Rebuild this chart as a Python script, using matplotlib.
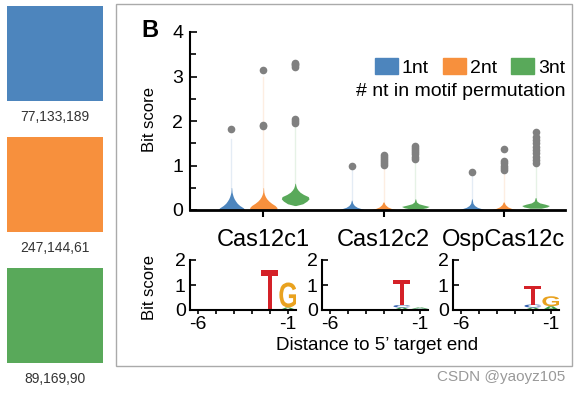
import matplotlib
matplotlib.use('Agg')
import matplotlib.pyplot as plt
import numpy as np
from matplotlib.patches import Rectangle, PathPatch, Patch
from matplotlib.textpath import TextPath
from matplotlib.font_manager import FontProperties
from matplotlib.transforms import Affine2D

plt.rcParams['font.family'] = ['Liberation Sans', 'DejaVu Sans']

# colour swatches on the left (RGB values written under them)
swatch_rgb = [(77, 133, 189), (247, 144, 61), (89, 169, 90)]
series = ['1nt', '2nt', '3nt']
proteins = ['Cas12c1', 'Cas12c2', 'OspCas12c']

# violin outlines: (bit score levels, relative half width), one per series
c1_violins = [
    ([0, .05, .1, .15, .2, .25, .3, .35, .4, .5], [1, .85, .6, .42, .3, .2, .13, .08, .04, .015]),
    ([0, .05, .1, .15, .2, .25, .3, .35, .4, .5], [.9, 1, .85, .6, .4, .25, .15, .08, .04, .015]),
    ([.1, .14, .2, .25, .3, .35, .4, .45, .5, .55, .6], [.05, .55, .85, 1, .95, .6, .35, .2, .1, .05, .02]),
]
c2_violins = [
    ([0, .03, .06, .1, .15, .22], [1, .7, .4, .2, .08, .02]),
    ([0, .03, .07, .12, .18], [1.1, .6, .3, .12, .03]),
    ([.02, .05, .08, .11, .14, .18, .25], [.3, .8, 1, .6, .25, .08, .02]),
]
osp_violins = [
    ([0, .03, .06, .1, .15, .25], [1, .7, .4, .2, .08, .02]),
    ([0, .03, .07, .12, .18], [1.05, .6, .3, .12, .03]),
    ([.04, .07, .1, .13, .16, .2, .28], [.4, .85, 1, .7, .3, .1, .02]),
]

# faint whiskers above each violin
c1_tails = [1.6, 3.0, 1.95]
c2_tails = [0.9, 1.0, 1.1]
osp_tails = [0.8, 0.9, 1.1]

# outlier dots
c1_outliers = [[1.83], [3.15, 1.92, 1.88], [3.22, 3.25, 3.28, 3.3, 1.96, 2.0, 2.04]]
c2_outliers = [[1.0], [1.02, 1.06, 1.1, 1.15, 1.2, 1.24], [1.14, 1.2, 1.25, 1.3, 1.35, 1.4, 1.44]]
osp_outliers = [[0.85], [0.9, 0.95, 1.0, 1.05, 1.1, 1.37],
                [1.05, 1.12, 1.2, 1.28, 1.35, 1.42, 1.5, 1.58, 1.64, 1.75]]

# sequence logos: position -> letters stacked from the bottom (letter, bits)
logo_positions = [-6, -5, -4, -3, -2, -1]
logo_c1 = {-2: [('T', 1.62)], -1: [('A', 0.1), ('G', 1.0)]}
logo_c2 = {-2: [('A', 0.1), ('C', 0.1), ('T', 1.0)], -1: [('C', 0.05), ('A', 0.05)]}
logo_osp = {-2: [('A', 0.1), ('C', 0.12), ('T', 0.74)], -1: [('A', 0.15), ('G', 0.4)]}
letter_colors = {'T': '#D42128', 'G': '#E9A21F', 'A': '#3A9A45', 'C': '#3563B0'}

W, H = 579, 393
colors = [tuple(v / 255 for v in c) for c in swatch_rgb]

fig = plt.figure(figsize=(W / 100, H / 100), dpi=100)

# swatches
for i, c in enumerate(swatch_rgb):
    top = 6 + i * 131
    fig.add_artist(Rectangle((7 / W, 1 - (top + 95) / H), 96 / W, 95 / H,
                             transform=fig.transFigure, color=colors[i], lw=0))
    fig.text(55 / W, 1 - (top + 111) / H, ','.join(str(v) for v in c),
             ha='center', va='center', fontsize=10, color='#333333')

# panel frame
fig.add_artist(Rectangle((116 / W, 1 - 366 / H), 456 / W, 362 / H, fill=False,
                         ec='#aaaaaa', lw=1, transform=fig.transFigure))
fig.text(141 / W, 1 - 37 / H, 'B', fontsize=17, fontweight='bold', ha='left', va='baseline')

# violin panel
ax = fig.add_axes([190 / W, 1 - 210 / H, 375 / W, 178 / H])
offsets = [-0.265, 0, 0.265]
half = 0.115
groups = [(c1_violins, c1_tails, c1_outliers),
          (c2_violins, c2_tails, c2_outliers),
          (osp_violins, osp_tails, osp_outliers)]
for g, (violins, tails, outliers) in enumerate(groups):
    for k in range(3):
        x = g + 1 + offsets[k]
        ys, ws = violins[k]
        hw = np.array(ws) * half
        ax.plot([x, x], [ys[-1], tails[k]], color=colors[k], lw=1, alpha=0.15, zorder=1)
        ax.fill_betweenx(ys, x - hw, x + hw, color=colors[k], lw=0, zorder=2)
        ax.plot([x] * len(outliers[k]), outliers[k], 'o', color='#808080', ms=5.5,
                mec='none', zorder=3)

ax.set_xlim(0.39, 3.51)
ax.set_ylim(0, 4)
ax.set_xticks([1, 2, 3])
ax.set_xticklabels(proteins, fontsize=17)
ax.set_yticks([0, 1, 2, 3, 4])
ax.set_yticks(np.arange(0.5, 4, 1), minor=True)
ax.tick_params(axis='y', direction='in', length=5, width=1.2, labelsize=14, pad=5)
ax.tick_params(axis='y', which='minor', direction='in', length=4, width=1.2)
ax.tick_params(axis='x', direction='out', length=5, width=1.5, pad=9)
for s in ['top', 'right']:
    ax.spines[s].set_visible(False)
ax.spines['left'].set_linewidth(1.5)
ax.spines['bottom'].set_linewidth(2)
ax.patch.set_alpha(0)

handles = [Patch(color=colors[k], label=series[k]) for k in range(3)]
ax.legend(handles=handles, ncol=3, frameon=False, fontsize=14, loc='center right',
          bbox_to_anchor=(1.0, 0.8), handlelength=1.2, handleheight=0.85,
          handletextpad=0.2, columnspacing=0.7, borderpad=0, borderaxespad=0)
ax.text(1.0, 0.663, '# nt in motif permutation', transform=ax.transAxes,
        ha='right', va='center', fontsize=14)
fig.text(149 / W, 1 - 119 / H, 'Bit score', rotation=90, ha='center', va='center', fontsize=12)

# sequence logos
fp = FontProperties(family='Liberation Sans', weight='bold')


def draw_letter(a, letter, x, y, w, h, color):
    tp = TextPath((0, 0), letter, size=1, prop=fp)
    bb = tp.get_extents()
    tr = Affine2D().translate(-bb.x0, -bb.y0).scale(w / bb.width, h / bb.height).translate(x - w / 2, y)
    a.add_patch(PathPatch(tr.transform_path(tp), fc=color, ec='none'))


logo_lefts = [190, 322, 453]
for logo, left in zip([logo_c1, logo_c2, logo_osp], logo_lefts):
    la = fig.add_axes([left / W, 1 - 310 / H, 106 / W, 50 / H])
    for pos, stack in logo.items():
        base = 0
        for letter, h in stack:
            draw_letter(la, letter, pos, base, 0.95, h, letter_colors[letter])
            base += h
    la.set_xlim(-6.45, -0.55)
    la.set_ylim(0, 2)
    la.set_xticks(logo_positions)
    la.set_xticklabels([str(p) if p in (-6, -1) else '' for p in logo_positions])
    la.set_yticks([0, 1, 2])
    la.tick_params(axis='y', direction='in', length=4, width=1.2, labelsize=14, pad=3)
    la.tick_params(axis='x', direction='out', length=3, width=1.2, labelsize=14, pad=1)
    for s in ['top', 'right']:
        la.spines[s].set_visible(False)
    la.spines['left'].set_linewidth(1.5)
    la.spines['bottom'].set_linewidth(1.5)
    la.patch.set_alpha(0)

fig.text(149 / W, 1 - 288 / H, 'Bit score', rotation=90, ha='center', va='center', fontsize=12)
fig.text(377 / W, 1 - 345 / H, 'Distance to 5\u2019 target end', ha='center', va='center', fontsize=13.5)

fig.text(565 / W, 1 - 377 / H, 'CSDN @yaoyz105', ha='right', va='center', fontsize=11, color='#999999')

fig.savefig('out.png', dpi=100)
